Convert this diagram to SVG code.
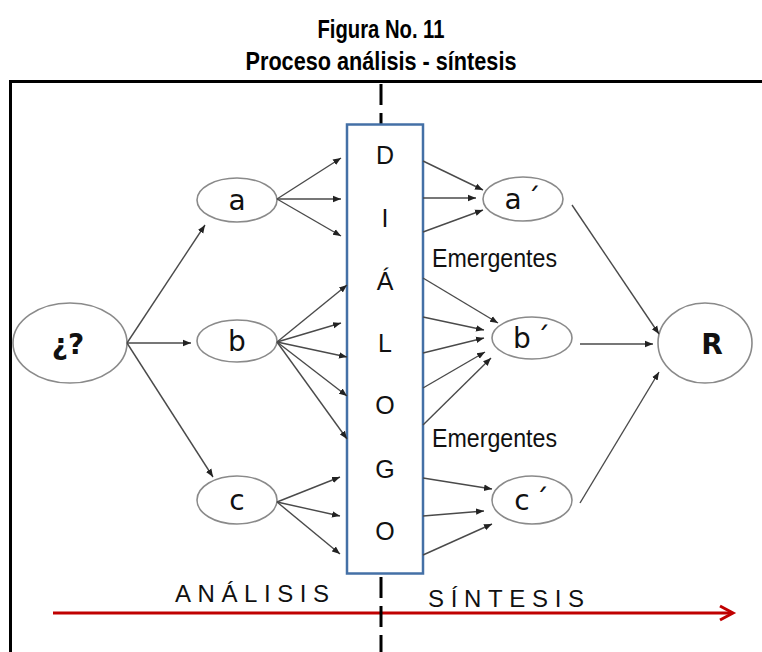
<svg xmlns="http://www.w3.org/2000/svg" width="762" height="652" viewBox="0 0 762 652">
<style>
.title{font-family:"Liberation Sans",Arial,sans-serif;font-weight:bold;font-size:26px;fill:#000;text-anchor:middle}
.node{fill:#fff;stroke:#8a8a8a;stroke-width:1.6}
.lbl{font-family:"DejaVu Sans",Verdana,sans-serif;font-size:28px;fill:#111;text-anchor:middle}
.lblb{font-family:"DejaVu Sans",Verdana,sans-serif;font-size:28px;font-weight:bold;fill:#111;text-anchor:middle}
.box{font-family:"Liberation Sans",Arial,sans-serif;font-size:25px;fill:#111;text-anchor:middle}
.em{font-family:"Liberation Sans",Arial,sans-serif;font-size:25px;fill:#111}
.axis{font-family:"Liberation Sans",Arial,sans-serif;font-size:24px;fill:#111;letter-spacing:8px}
.conn line{stroke:#4a4a4a;stroke-width:1.4;marker-end:url(#ah)}
</style>
<defs>
<marker id="ah" viewBox="0 0 10 10" refX="10" refY="5" markerWidth="8" markerHeight="8" markerUnits="userSpaceOnUse" orient="auto">
<path d="M0,1 L10,5 L0,9 z" fill="#222"/>
</marker>
</defs>
<rect width="762" height="652" fill="#fff"/>
<text class="title" x="381" y="38" textLength="127" lengthAdjust="spacingAndGlyphs">Figura No. 11</text>
<text class="title" x="381" y="70" textLength="271" lengthAdjust="spacingAndGlyphs">Proceso análisis - síntesis</text>
<rect x="10.5" y="81.5" width="800" height="620" fill="none" stroke="#000" stroke-width="3"/>

<g id="axis">
<line x1="53" y1="613" x2="732" y2="613" stroke="#C00000" stroke-width="3"/>
<polyline points="720,606 733,613 720,620" fill="none" stroke="#C00000" stroke-width="3"/>
<text class="axis" x="175" y="602" textLength="162" lengthAdjust="spacing">ANÁLISIS</text>
<text class="axis" x="428" y="607" textLength="164" lengthAdjust="spacing">SÍNTESIS</text>
</g>
<line id="divider" x1="381" y1="84" x2="381" y2="660" stroke="#000" stroke-width="3" stroke-dasharray="21 8"/>

<g id="dialogo">
<rect x="347" y="124.5" width="76" height="449" fill="#fff" stroke="#4470A6" stroke-width="2.5"/>
<text class="box" x="385" y="164">D</text>
<text class="box" x="385" y="227">I</text>
<text class="box" x="385" y="290">Á</text>
<text class="box" x="385" y="352">L</text>
<text class="box" x="385" y="414">O</text>
<text class="box" x="385" y="478">G</text>
<text class="box" x="385" y="540">O</text>
</g>

<g id="q"><ellipse class="node" cx="70" cy="343" rx="57" ry="40"/><text class="lblb" x="68" y="354">¿?</text></g>
<g id="a"><ellipse class="node" cx="237" cy="200" rx="40" ry="22"/><text class="lbl" x="237" y="210">a</text></g>
<g id="b"><ellipse class="node" cx="237" cy="341" rx="40" ry="21"/><text class="lbl" x="237" y="351">b</text></g>
<g id="c"><ellipse class="node" cx="237" cy="500" rx="40" ry="24"/><text class="lbl" x="237" y="510">c</text></g>
<g id="a2"><ellipse class="node" cx="523" cy="199" rx="40" ry="22"/><text class="lbl" x="525" y="209" letter-spacing="5">a´</text></g>
<g id="b2"><ellipse class="node" cx="532" cy="338" rx="40" ry="21"/><text class="lbl" x="534" y="348" letter-spacing="5">b´</text></g>
<g id="c2"><ellipse class="node" cx="532" cy="500" rx="40" ry="24"/><text class="lbl" x="534" y="510" letter-spacing="5">c´</text></g>
<g id="R"><ellipse class="node" cx="705" cy="343" rx="47" ry="40"/><text class="lblb" x="712" y="354">R</text></g>

<g id="labels">
<text class="em" x="432" y="267" textLength="125" lengthAdjust="spacingAndGlyphs">Emergentes</text>
<text class="em" x="432" y="447" textLength="125" lengthAdjust="spacingAndGlyphs">Emergentes</text>
</g>

<g class="conn" id="connectors">
<line x1="127" y1="343" x2="205" y2="225"/>
<line x1="127" y1="343" x2="191" y2="343"/>
<line x1="127" y1="343" x2="213" y2="477"/>
<line x1="277" y1="199" x2="341" y2="158"/>
<line x1="277" y1="199" x2="341" y2="199"/>
<line x1="277" y1="199" x2="341" y2="236"/>
<line x1="277" y1="342" x2="347" y2="285"/>
<line x1="277" y1="342" x2="341" y2="323"/>
<line x1="277" y1="342" x2="347" y2="357"/>
<line x1="277" y1="342" x2="347" y2="396"/>
<line x1="277" y1="342" x2="347" y2="439"/>
<line x1="277" y1="502" x2="340" y2="477"/>
<line x1="277" y1="502" x2="340" y2="516"/>
<line x1="277" y1="502" x2="340" y2="554"/>
<line x1="423" y1="161" x2="483" y2="190"/>
<line x1="423" y1="198" x2="476" y2="198"/>
<line x1="423" y1="232" x2="483" y2="210"/>
<line x1="423" y1="278" x2="498" y2="323"/>
<line x1="423" y1="317" x2="484" y2="330"/>
<line x1="423" y1="353" x2="484" y2="338"/>
<line x1="423" y1="388" x2="485" y2="352"/>
<line x1="423" y1="425" x2="491" y2="358"/>
<line x1="423" y1="478" x2="492" y2="489"/>
<line x1="423" y1="516" x2="484" y2="511"/>
<line x1="423" y1="555" x2="492" y2="524"/>
<line x1="572" y1="205" x2="659" y2="334"/>
<line x1="580" y1="344" x2="653" y2="344"/>
<line x1="580" y1="503" x2="659" y2="372"/>
</g>
</svg>
